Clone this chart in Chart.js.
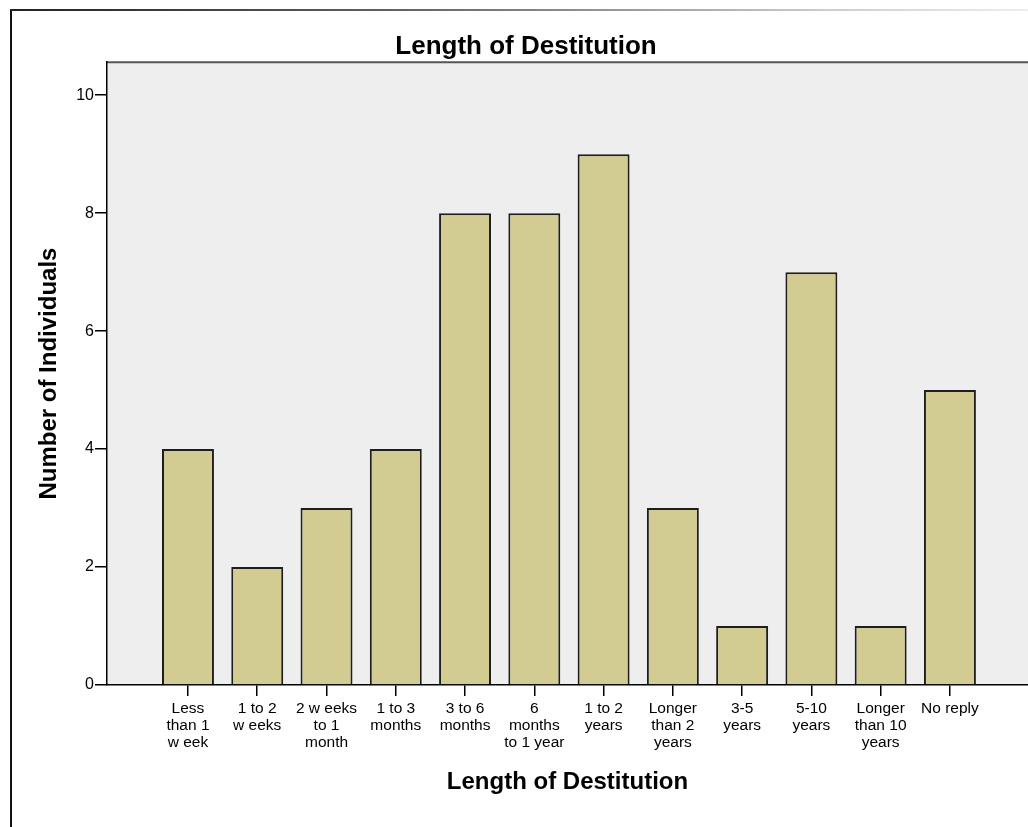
<!DOCTYPE html>
<html>
<head>
<meta charset="utf-8">
<script src="https://cdn.jsdelivr.net/npm/chart.js@4.4.0/dist/chart.umd.min.js"></script>
<style>
    html, body { margin: 0; padding: 0; background: #fff; overflow: hidden; }
    body { width: 1028px; height: 827px; position: relative; }
    #marcoIzq { position: absolute; left: 10px; top: 9px; width: 2px; height: 818px; background: #111; z-index: 2; }
    #marcoSup { position: absolute; left: 10px; top: 9px; width: 1018px; height: 2px; z-index: 2;
        background: linear-gradient(to right, #222 0%, #666 40%, #ccc 80%, #eee 100%); }
    #contenedor { position: absolute; left: 0; top: 10px; width: 1040px; height: 817px; }
</style>
</head>
<body>
<div id="marcoIzq"></div>
<div id="marcoSup"></div>
<div id="contenedor"><canvas id="graficoDestitucion"></canvas></div>
<script>
// Categorías (etiquetas en varias líneas, como en el original)
const categorias = [
    ['Less', 'than 1', 'w eek'],
    ['1 to 2', 'w eeks'],
    ['2 w eeks', 'to 1', 'month'],
    ['1 to 3', 'months'],
    ['3 to 6', 'months'],
    ['6', 'months', 'to 1 year'],
    ['1 to 2', 'years'],
    ['Longer', 'than 2', 'years'],
    ['3-5', 'years'],
    ['5-10', 'years'],
    ['Longer', 'than 10', 'years'],
    ['No reply']
];
// Número de individuos por categoría
const individuos = [4, 2, 3, 4, 8, 8, 9, 3, 1, 7, 1, 5];
// Marcas del eje Y
const marcasY = [0, 2, 4, 6, 8, 10];

const fuente = "'Liberation Sans', Arial, sans-serif";

// Fondo gris del área del gráfico
const fondoArea = {
    id: 'fondoArea',
    beforeDraw(chart) {
        const { ctx, chartArea: a } = chart;
        ctx.save();
        ctx.fillStyle = '#eeeeee';
        ctx.fillRect(a.left, a.top, chart.width - a.left, a.bottom - a.top);
        ctx.strokeStyle = '#555';
        ctx.lineWidth = 2;
        ctx.beginPath();
        ctx.moveTo(a.left, a.top);
        ctx.lineTo(chart.width, a.top);
        ctx.stroke();
        ctx.restore();
    }
};

const ctx = document.getElementById('graficoDestitucion').getContext('2d');
new Chart(ctx, {
    type: 'bar',
    data: {
        datasets: [{
            label: 'Length of Destitution',
            data: individuos.map((v, i) => ({ x: i, y: v })),
            backgroundColor: 'rgb(210, 204, 146)',
            borderColor: '#1e1e1e',
            borderWidth: 2,
            barPercentage: 0.75,
            categoryPercentage: 1
        }]
    },
    options: {
        responsive: true,
        maintainAspectRatio: false,
        animation: false,
        layout: { padding: { left: 24, right: 12, top: 0, bottom: 0 } },
        plugins: {
            legend: { display: false },
            tooltip: { enabled: false },
            title: {
                display: true,
                text: 'Length of Destitution',
                color: '#000',
                font: { family: fuente, size: 26, weight: 'bold' },
                padding: { top: 21, bottom: 0 }
            }
        },
        scales: {
            x: {
                type: 'linear',
                offset: false,
                min: -1.169,
                max: 12.127,
                afterBuildTicks: scale => {
                    scale.ticks = categorias.map((c, i) => ({ value: i }));
                },
                afterFit: scale => { scale.height = 142; },
                ticks: {
                    autoSkip: false,
                    maxRotation: 0,
                    padding: 4,
                    color: '#000',
                    font: { family: fuente, size: 15.5, lineHeight: 1.1 },
                    callback: (v) => categorias[v]
                },
                grid: {
                    offset: false,
                    drawOnChartArea: false,
                    drawTicks: true,
                    tickLength: 11,
                    color: '#000',
                    lineWidth: 1.5
                },
                border: { display: true, color: '#000', width: 1.5 },
                title: {
                    display: true,
                    text: 'Length of Destitution',
                    color: '#000',
                    font: { family: fuente, size: 24, weight: 'bold' },
                    padding: { top: 0, bottom: 30 }
                }
            },
            y: {
                min: 0,
                max: 10.56,
                afterBuildTicks: scale => {
                    scale.ticks = marcasY.map(v => ({ value: v }));
                },
                afterFit: scale => { scale.width = 83; },
                ticks: {
                    padding: 1,
                    color: '#000',
                    font: { family: fuente, size: 16 }
                },
                grid: {
                    drawOnChartArea: false,
                    drawTicks: true,
                    tickLength: 12,
                    color: '#000',
                    lineWidth: 1.5
                },
                border: { display: true, color: '#000', width: 1.5 },
                title: {
                    display: true,
                    text: 'Number of Individuals',
                    color: '#000',
                    font: { family: fuente, size: 24, weight: 'bold' },
                    padding: { top: 11, bottom: 0 }
                }
            }
        }
    },
    plugins: [fondoArea]
});
</script>
</body>
</html>
